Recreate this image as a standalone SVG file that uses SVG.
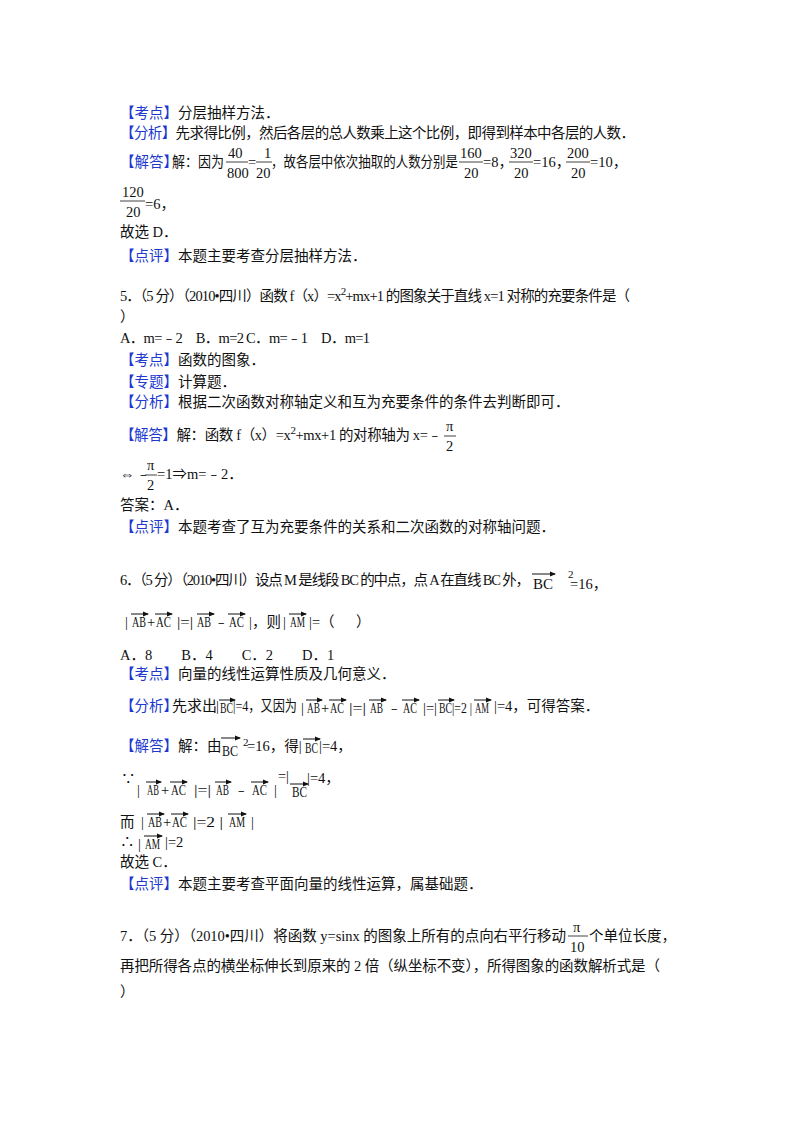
<svg xmlns="http://www.w3.org/2000/svg" width="800" height="1132" viewBox="0 0 800 1132">
<style>
text{font-family:"Liberation Serif","Noto Sans CJK SC",serif;font-size:14.5px;fill:#111}
.b{fill:#2038d0}
.s{font-size:11px}
.v{stroke:#111;stroke-width:1;fill:none;marker-end:url(#a)}
.bar{stroke:#111;stroke-width:0.8}
</style>
<defs><marker id="a" viewBox="0 0 6 6" refX="5" refY="3" markerWidth="6" markerHeight="6" markerUnits="userSpaceOnUse" orient="auto"><path d="M0,0.5L6,3L0,5.5z" fill="#111"/></marker></defs>
<rect width="800" height="1132" fill="#fff"/>

<text x="120" y="118"><tspan class="b">【考点】</tspan>分层抽样方法．</text>
<text x="120" y="138" textLength="515"><tspan class="b">【分析】</tspan>先求得比例，然后各层的总人数乘上这个比例，即得到样本中各层的人数．</text>
<text x="120" y="167" class="b">【解答】</text><text x="172" y="167" textLength="52" lengthAdjust="spacingAndGlyphs">解：因为</text>
<text x="228" y="158">40</text><line class="bar" x1="226" y1="162" x2="248" y2="162"/><text x="227" y="178">800</text>
<text x="248" y="167">=</text>
<text x="264" y="158">1</text><line class="bar" x1="256" y1="162" x2="272" y2="162"/><text x="256" y="178">20</text>
<text x="271" y="167" textLength="187" lengthAdjust="spacingAndGlyphs">，故各层中依次抽取的人数分别是</text>
<text x="460" y="158">160</text><line class="bar" x1="459" y1="162" x2="483" y2="162"/><text x="464" y="178">20</text><text x="483" y="167">=8，</text>
<text x="510" y="158">320</text><line class="bar" x1="509" y1="162" x2="533" y2="162"/><text x="514" y="178">20</text><text x="533" y="167">=16，</text>
<text x="567" y="158">200</text><line class="bar" x1="566" y1="162" x2="590" y2="162"/><text x="571" y="178">20</text><text x="590" y="167">=10，</text>
<text x="122" y="197">120</text><line class="bar" x1="120" y1="201" x2="145" y2="201"/><text x="126" y="217">20</text><text x="145" y="209">=6，</text>
<text x="120" y="237">故选 D．</text>
<text x="120" y="261"><tspan class="b">【点评】</tspan>本题主要考查分层抽样方法．</text>

<text x="120" y="301" textLength="510">5．（5 分）（2010•四川）函数 f（x）=x<tspan class="s" dy="-6">2</tspan><tspan dy="6">+mx+1 的图象关于直线 x=1 对称的充要条件是（</tspan></text>
<text x="120" y="322">）</text>
<text x="120" y="343" textLength="250">A．m=﹣2　B．m=2 C．m=﹣1　D．m=1</text>
<text x="120" y="365"><tspan class="b">【考点】</tspan>函数的图象．</text>
<text x="120" y="387"><tspan class="b">【专题】</tspan>计算题．</text>
<text x="120" y="407"><tspan class="b">【分析】</tspan>根据二次函数对称轴定义和互为充要条件的条件去判断即可．</text>
<text x="120" y="440" textLength="322"><tspan class="b">【解答】</tspan>解：函数 f（x）=x<tspan class="s" dy="-6">2</tspan><tspan dy="6">+mx+1 的对称轴为 x=﹣</tspan></text>
<text x="446" y="431">π</text><line class="bar" x1="444" y1="436" x2="456" y2="436"/><text x="446" y="451">2</text>
<text x="120" y="479" font-size="17">⇔</text><text x="136" y="479">﹣</text>
<text x="147" y="470">π</text><line class="bar" x1="145" y1="475" x2="157" y2="475"/><text x="147" y="490">2</text>
<text x="157" y="479">=1⇒m=﹣2．</text>
<text x="120" y="510">答案：A．</text>
<text x="120" y="532"><tspan class="b">【点评】</tspan>本题考查了互为充要条件的关系和二次函数的对称轴问题．</text>

<text x="120" y="585" textLength="410">6．（5 分）（2010•四川）设点 M 是线段 BC 的中点，点 A 在直线 BC 外，</text>
<text x="533" y="589" textLength="20" lengthAdjust="spacingAndGlyphs">BC</text><path class="v" d="M532,574H555"/><text class="s" x="568" y="578">2</text><text x="570" y="589">=16，</text>

<g id="q6line2" lengthAdjust="spacingAndGlyphs">
<text x="125" y="627">|</text><text x="132" y="627" textLength="14" lengthAdjust="spacingAndGlyphs">AB</text><path class="v" d="M131,614H148"/>
<text x="147" y="627">+</text><text x="156" y="627" textLength="15" lengthAdjust="spacingAndGlyphs">AC</text><path class="v" d="M155,614H172"/>
<text x="177" y="627" textLength="16" lengthAdjust="spacingAndGlyphs">|=|</text><text x="197" y="627" textLength="14" lengthAdjust="spacingAndGlyphs">AB</text><path class="v" d="M197,614H214"/>
<text x="214" y="627">﹣</text><text x="229" y="627" textLength="15" lengthAdjust="spacingAndGlyphs">AC</text><path class="v" d="M228,614H245"/>
<text x="249" y="627">|，则</text><text x="283" y="627">|</text>
<text x="290" y="627" textLength="15" lengthAdjust="spacingAndGlyphs">AM</text><path class="v" d="M289,614H306"/><text x="309" y="627">|=（</text><text x="356" y="627">）</text>
</g>
<text x="120" y="660">A．8　　B．4　　C．2　　D．1</text>
<text x="120" y="679"><tspan class="b">【考点】</tspan>向量的线性运算性质及几何意义．</text>
<g id="q6an">
<text x="120" y="711" class="b">【分析】</text><text x="172" y="711" textLength="45" lengthAdjust="spacingAndGlyphs">先求出</text><text x="216" y="711">|</text>
<text x="220" y="713" textLength="13" lengthAdjust="spacingAndGlyphs">BC</text><path class="v" d="M219,700H235"/>
<text x="233" y="711" textLength="64" lengthAdjust="spacingAndGlyphs">|=4，又因为</text>
<text x="301" y="713">|</text><text x="307" y="713" textLength="13" lengthAdjust="spacingAndGlyphs">AB</text><path class="v" d="M306,700H322"/><text x="321" y="713">+</text><text x="330" y="713" textLength="14" lengthAdjust="spacingAndGlyphs">AC</text><path class="v" d="M329,700H346"/>
<text x="349" y="713" textLength="17" lengthAdjust="spacingAndGlyphs">|=|</text><text x="370" y="713" textLength="13" lengthAdjust="spacingAndGlyphs">AB</text><path class="v" d="M369,700H386"/><text x="387" y="713">﹣</text>
<text x="403" y="713" textLength="14" lengthAdjust="spacingAndGlyphs">AC</text><path class="v" d="M402,700H419"/><text x="423" y="713" textLength="14" lengthAdjust="spacingAndGlyphs">|=|</text>
<text x="439" y="713" textLength="13" lengthAdjust="spacingAndGlyphs">BC</text><path class="v" d="M438,700H454"/><text x="452" y="713" textLength="20" lengthAdjust="spacingAndGlyphs">|=2 |</text>
<text x="475" y="713" textLength="14" lengthAdjust="spacingAndGlyphs">AM</text><path class="v" d="M474,700H491"/><text x="494" y="711">|=4，可得答案．</text>
</g>
<g id="q6sol">
<text x="120" y="751"><tspan class="b">【解答】</tspan>解：由</text>
<text x="222" y="756" textLength="16" lengthAdjust="spacingAndGlyphs">BC</text><path class="v" d="M221,738H240"/><text class="s" x="243" y="746">2</text><text x="247" y="751">=16，得|</text>
<text x="305" y="753" textLength="13" lengthAdjust="spacingAndGlyphs">BC</text><path class="v" d="M303,739H320"/><text x="319" y="751">|=4，</text>

<text x="121" y="784">∵</text><text x="137" y="795">|</text>
<text x="147" y="795" textLength="12" lengthAdjust="spacingAndGlyphs">AB</text><path class="v" d="M146,782H161"/><text x="161" y="795">+</text>
<text x="171" y="795" textLength="15" lengthAdjust="spacingAndGlyphs">AC</text><path class="v" d="M170,782H187"/><text x="194" y="795" textLength="17" lengthAdjust="spacingAndGlyphs">|=|</text>
<text x="216" y="795" textLength="13" lengthAdjust="spacingAndGlyphs">AB</text><path class="v" d="M215,782H231"/><text x="234" y="795">﹣</text>
<text x="252" y="795" textLength="15" lengthAdjust="spacingAndGlyphs">AC</text><path class="v" d="M251,782H268"/><text x="274" y="795">|</text>
<text x="278" y="781" textLength="11" lengthAdjust="spacingAndGlyphs">=|</text><text x="292" y="797" textLength="15" lengthAdjust="spacingAndGlyphs">BC</text><path class="v" d="M290,784H308"/><text x="307" y="783">|=4，</text>

<text x="120" y="827">而</text><text x="141" y="827">|</text>
<text x="148" y="827" textLength="14" lengthAdjust="spacingAndGlyphs">AB</text><path class="v" d="M147,814H164"/><text x="163" y="827">+</text>
<text x="172" y="827" textLength="15" lengthAdjust="spacingAndGlyphs">AC</text><path class="v" d="M171,814H188"/><text x="193" y="827" textLength="30" lengthAdjust="spacingAndGlyphs">|=2 |</text>
<text x="229" y="827" textLength="16" lengthAdjust="spacingAndGlyphs">AM</text><path class="v" d="M228,814H246"/><text x="251" y="827">|</text>

<text x="120" y="847">∴</text><text x="138" y="849">|</text>
<text x="145" y="849" textLength="15" lengthAdjust="spacingAndGlyphs">AM</text><path class="v" d="M144,836H162"/><text x="165" y="847">|=2</text>
</g>
<text x="120" y="867">故选 C．</text>
<text x="120" y="889"><tspan class="b">【点评】</tspan>本题主要考查平面向量的线性运算，属基础题．</text>

<text x="120" y="941" textLength="446">7．（5 分）（2010•四川）将函数 y=sinx 的图象上所有的点向右平行移动</text>
<text x="573" y="932">π</text><line class="bar" x1="568" y1="936" x2="588" y2="936"/><text x="570" y="952">10</text>
<text x="589" y="941">个单位长度，</text>
<text x="120" y="971" textLength="540">再把所得各点的横坐标伸长到原来的 2 倍（纵坐标不变），所得图象的函数解析式是（</text>
<text x="120" y="997">）</text>
</svg>
